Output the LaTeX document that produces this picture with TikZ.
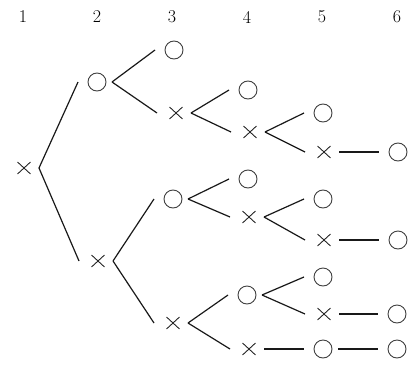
\documentclass[tikz,border=0pt]{standalone}
\usetikzlibrary{shapes.misc}
\tikzset{
  cir/.style={circle, draw=black!75, line width=0.9pt, minimum size=18pt, inner sep=0pt},
  crs/.style={cross out, draw=black!85, line width=0.9pt, minimum width=12pt, minimum height=11pt, inner sep=0pt},
  edge/.style={draw=black!90, line width=1.2pt},
  lab/.style={font=\fontsize{18}{18}\selectfont, inner sep=0pt}
}
\newcommand{\tedge}[2]{\draw[edge] ([xshift=15pt]#1.center) -- ([xshift=-19pt]#2.center);}
\begin{document}
\begin{tikzpicture}[x=1pt,y=-1pt]
\useasboundingbox (0,0) rectangle (417,364);
% column labels
\node[lab] (l1) at (23,17) {1};
\node[lab] (l2) at (97,17) {2};
\node[lab] (l3) at (172,17) {3};
\node[lab] (l4) at (247,17) {4};
\node[lab] (l5) at (322,17) {5};
\node[lab] (l6) at (397,17) {6};
% column 1
\node[crs] (n1) at (24,168) {};
% column 2
\node[cir] (a2) at (97,82) {};
\node[crs] (b2) at (98,261) {};
% column 3
\node[cir] (a3) at (174,50) {};
\node[crs] (b3) at (176,113) {};
\node[cir] (c3) at (173,199) {};
\node[crs] (d3) at (173,323) {};
% column 4
\node[cir] (a4) at (248,90) {};
\node[crs] (b4) at (250,132) {};
\node[cir] (c4) at (248,179) {};
\node[crs] (d4) at (249,217) {};
\node[cir] (e4) at (247,295) {};
\node[crs] (f4) at (249,349) {};
% column 5
\node[cir] (a5) at (323,113) {};
\node[crs] (b5) at (324,152) {};
\node[cir] (c5) at (323,199) {};
\node[crs] (d5) at (324,240) {};
\node[cir] (e5) at (323,277) {};
\node[crs] (f5) at (324,314) {};
\node[cir] (g5) at (323,349) {};
% column 6
\node[cir] (a6) at (398,152) {};
\node[cir] (b6) at (398,240) {};
\node[cir] (c6) at (397,314) {};
\node[cir] (d6) at (397,349) {};
% edges
\tedge{n1}{a2}
\tedge{n1}{b2}
\tedge{a2}{a3}
\tedge{a2}{b3}
\tedge{b2}{c3}
\tedge{b2}{d3}
\tedge{b3}{a4}
\tedge{b3}{b4}
\tedge{c3}{c4}
\tedge{c3}{d4}
\tedge{d3}{e4}
\tedge{d3}{f4}
\tedge{b4}{a5}
\tedge{b4}{b5}
\tedge{d4}{c5}
\tedge{d4}{d5}
\tedge{e4}{e5}
\tedge{e4}{f5}
\tedge{f4}{g5}
\tedge{b5}{a6}
\tedge{d5}{b6}
\tedge{f5}{c6}
\tedge{g5}{d6}
\end{tikzpicture}
\end{document}
